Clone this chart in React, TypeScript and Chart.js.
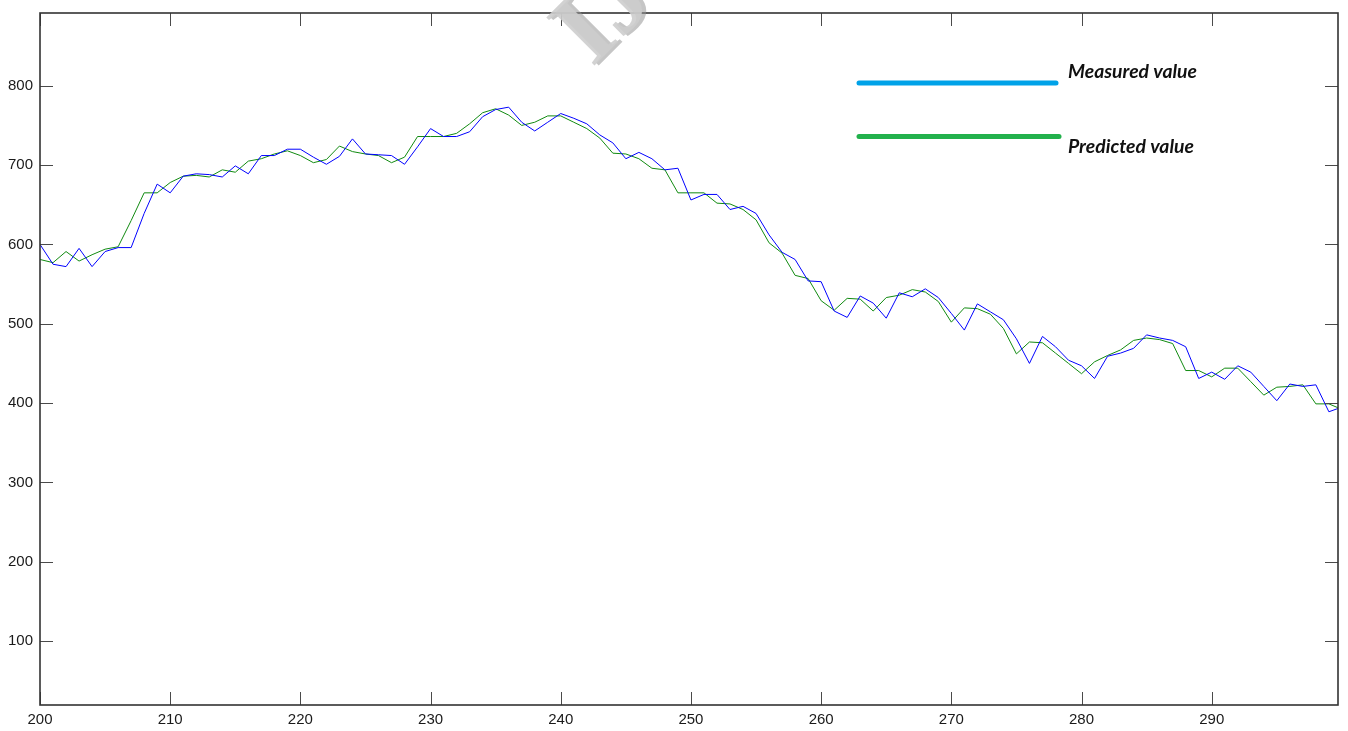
import React, { useEffect, useRef } from "react";
import { Chart, registerables } from "chart.js";

Chart.register(...registerables);

// ---- data ----
const timeSteps = [
  200, 201, 202, 203, 204, 205, 206, 207, 208, 209,
  210, 211, 212, 213, 214, 215, 216, 217, 218, 219,
  220, 221, 222, 223, 224, 225, 226, 227, 228, 229,
  230, 231, 232, 233, 234, 235, 236, 237, 238, 239,
  240, 241, 242, 243, 244, 245, 246, 247, 248, 249,
  250, 251, 252, 253, 254, 255, 256, 257, 258, 259,
  260, 261, 262, 263, 264, 265, 266, 267, 268, 269,
  270, 271, 272, 273, 274, 275, 276, 277, 278, 279,
  280, 281, 282, 283, 284, 285, 286, 287, 288, 289,
  290, 291, 292, 293, 294, 295, 296, 297, 298, 299,
  300,
];

const measuredValues = [
  600, 575, 572, 595, 572, 591, 596, 596, 639, 676,
  665, 686, 689, 688, 685, 699, 689, 712, 712, 720,
  720, 710, 701, 711, 733, 714, 713, 712, 701, 723,
  746, 736, 736, 742, 761, 770, 773, 754, 743, 754,
  765, 759, 752, 738, 728, 708, 716, 708, 694, 696,
  656, 663, 663, 644, 648, 639, 612, 590, 581, 554,
  553, 516, 508, 535, 526, 507, 539, 534, 544, 533,
  513, 492, 525, 515, 505, 481, 450, 484, 471, 454,
  447, 431, 459, 463, 469, 486, 482, 479, 471, 431,
  439, 430, 447, 439, 421, 403, 424, 421, 423, 389,
  395,
];

const predictedValues = [
  581, 577, 591, 579, 587, 594, 597, 630, 665, 665,
  678, 686, 687, 685, 694, 691, 705, 708, 714, 718,
  712, 703, 707, 724, 717, 714, 712, 703, 710, 736,
  736, 736, 740, 752, 766, 771, 763, 750, 754, 762,
  762, 754, 746, 734, 715, 714, 708, 696, 694, 665,
  665, 665, 652, 651, 644, 631, 602, 589, 561, 557,
  529, 517, 532, 531, 516, 533, 536, 543, 540, 528,
  502, 520, 519, 512, 494, 462, 477, 476, 463, 450,
  437, 452, 460, 467, 479, 482, 480, 475, 441, 441,
  433, 444, 444, 427, 410, 420, 421, 423, 399, 399,
  392,
];

const xTickValues = [200, 210, 220, 230, 240, 250, 260, 270, 280, 290];
const yTickValues = [100, 200, 300, 400, 500, 600, 700, 800];
const xLimits = [200, 299.7];
const yLimits = [19.4, 891.7];

const legendLabels = ["Measured value", "Predicted value"];
const legendColors = ["#00A2E8", "#22B14C"];
const watermarkText = "IJSER";

const frameTicksPlugin = {
  id: "frameTicks",
  afterDatasetsDraw(chart: any) {
    const { ctx, chartArea: a, scales } = chart;
    const len = 13;
    ctx.save();
    ctx.strokeStyle = "#4a4a4a";
    ctx.lineWidth = 1;
    ctx.beginPath();
    for (const t of scales.x.ticks) {
      const px = Math.round(scales.x.getPixelForValue(t.value)) + 0.5;
      ctx.moveTo(px, a.bottom);
      ctx.lineTo(px, a.bottom - len);
      ctx.moveTo(px, a.top);
      ctx.lineTo(px, a.top + len);
    }
    for (const t of scales.y.ticks) {
      const py = Math.round(scales.y.getPixelForValue(t.value)) + 0.5;
      ctx.moveTo(a.left, py);
      ctx.lineTo(a.left + len, py);
      ctx.moveTo(a.right, py);
      ctx.lineTo(a.right - len, py);
    }
    ctx.stroke();

    ctx.strokeStyle = "#333333";
    ctx.lineWidth = 1.6;
    ctx.strokeRect(a.left, a.top, a.right - a.left, a.bottom - a.top);

    // legend (drawn in plot like the reference annotation)
    const lx0 = a.left + 819;
    const lx1 = a.left + 1016;
    const rows = [
      { ly: a.top + 70, ty: a.top + 59 },
      { ly: a.top + 123.5, ty: a.top + 134 },
    ];
    ctx.lineCap = "round";
    ctx.lineWidth = 5;
    rows.forEach((r, i) => {
      ctx.strokeStyle = legendColors[i];
      ctx.beginPath();
      ctx.moveTo(lx0, r.ly);
      ctx.lineTo(lx1 + i * 3, r.ly);
      ctx.stroke();
    });
    ctx.fillStyle = "#111111";
    ctx.font = "italic bold 18px Lato";
    ctx.textBaseline = "middle";
    ctx.textAlign = "left";
    const targetW = [129, 126];
    rows.forEach((r, i) => {
      const w = ctx.measureText(legendLabels[i]).width;
      ctx.save();
      ctx.translate(a.left + 1028, r.ty);
      ctx.scale(targetW[i] / w, 1);
      ctx.fillText(legendLabels[i], 0, 0);
      ctx.restore();
    });

    // watermark fragment
    ctx.save();
    ctx.translate(592, 68);
    ctx.rotate(-Math.PI / 4);
    ctx.font = "bold 104px 'Liberation Serif'";
    ctx.textBaseline = "alphabetic";
    ctx.fillStyle = "rgba(150,150,150,0.55)";
    ctx.fillText(watermarkText, 3, 3);
    ctx.fillStyle = "rgba(205,205,205,0.9)";
    ctx.fillText(watermarkText, 0, 0);
    ctx.restore();

    ctx.restore();
  },
};

export default function App() {
  const canvasRef = useRef<HTMLCanvasElement | null>(null);

  useEffect(() => {
    const canvas = canvasRef.current;
    if (!canvas) return;
    const measured = timeSteps.map((x, i) => ({ x, y: measuredValues[i] }));
    const predicted = timeSteps.map((x, i) => ({ x, y: predictedValues[i] }));

    const chart = new Chart(canvas, {
      type: "line",
      data: {
        datasets: [
          {
            label: "Measured value",
            data: measured,
            borderColor: "#0000FF",
            borderWidth: 1,
            pointRadius: 0,
            tension: 0,
            fill: false,
          },
          {
            label: "Predicted value",
            data: predicted,
            borderColor: "#108a10",
            borderWidth: 1,
            pointRadius: 0,
            tension: 0,
            fill: false,
          },
        ],
      },
      options: {
        animation: false,
        responsive: false,
        maintainAspectRatio: false,
        layout: { padding: { top: 13, right: 10, left: 0, bottom: 0 } },
        plugins: {
          legend: { display: false },
          tooltip: { enabled: false },
          title: { display: false },
        },
        scales: {
          x: {
            type: "linear",
            min: xLimits[0],
            max: xLimits[1],
            grid: { display: false, drawTicks: false },
            border: { display: false },
            afterBuildTicks: (scale: any) => {
              scale.ticks = xTickValues.map((v) => ({ value: v }));
            },
            afterFit: (scale: any) => {
              scale.height = 26;
              scale.paddingLeft = 0;
              scale.paddingRight = 0;
            },
            ticks: {
              padding: 6,
              color: "#1a1a1a",
              font: { family: "'Liberation Sans'", size: 15 },
              maxRotation: 0,
              autoSkip: false,
              callback: (v: any) => String(v),
            },
          },
          y: {
            type: "linear",
            min: yLimits[0],
            max: yLimits[1],
            grid: { display: false, drawTicks: false },
            border: { display: false },
            afterBuildTicks: (scale: any) => {
              scale.ticks = yTickValues.map((v) => ({ value: v }));
            },
            afterFit: (scale: any) => {
              scale.width = 40;
              scale.paddingTop = 0;
              scale.paddingBottom = 0;
            },
            ticks: {
              padding: 7,
              color: "#1a1a1a",
              font: { family: "'Liberation Sans'", size: 15 },
              autoSkip: false,
              callback: (v: any) => String(v),
            },
          },
        },
      },
      plugins: [frameTicksPlugin],
    });
    return () => chart.destroy();
  }, []);

  return (
    <div
      style={{
        position: "fixed",
        left: 0,
        top: 0,
        width: 1348,
        height: 731,
        background: "#ffffff",
      }}
    >
      <canvas ref={canvasRef} width={1348} height={731} style={{ display: "block" }} />
    </div>
  );
}
